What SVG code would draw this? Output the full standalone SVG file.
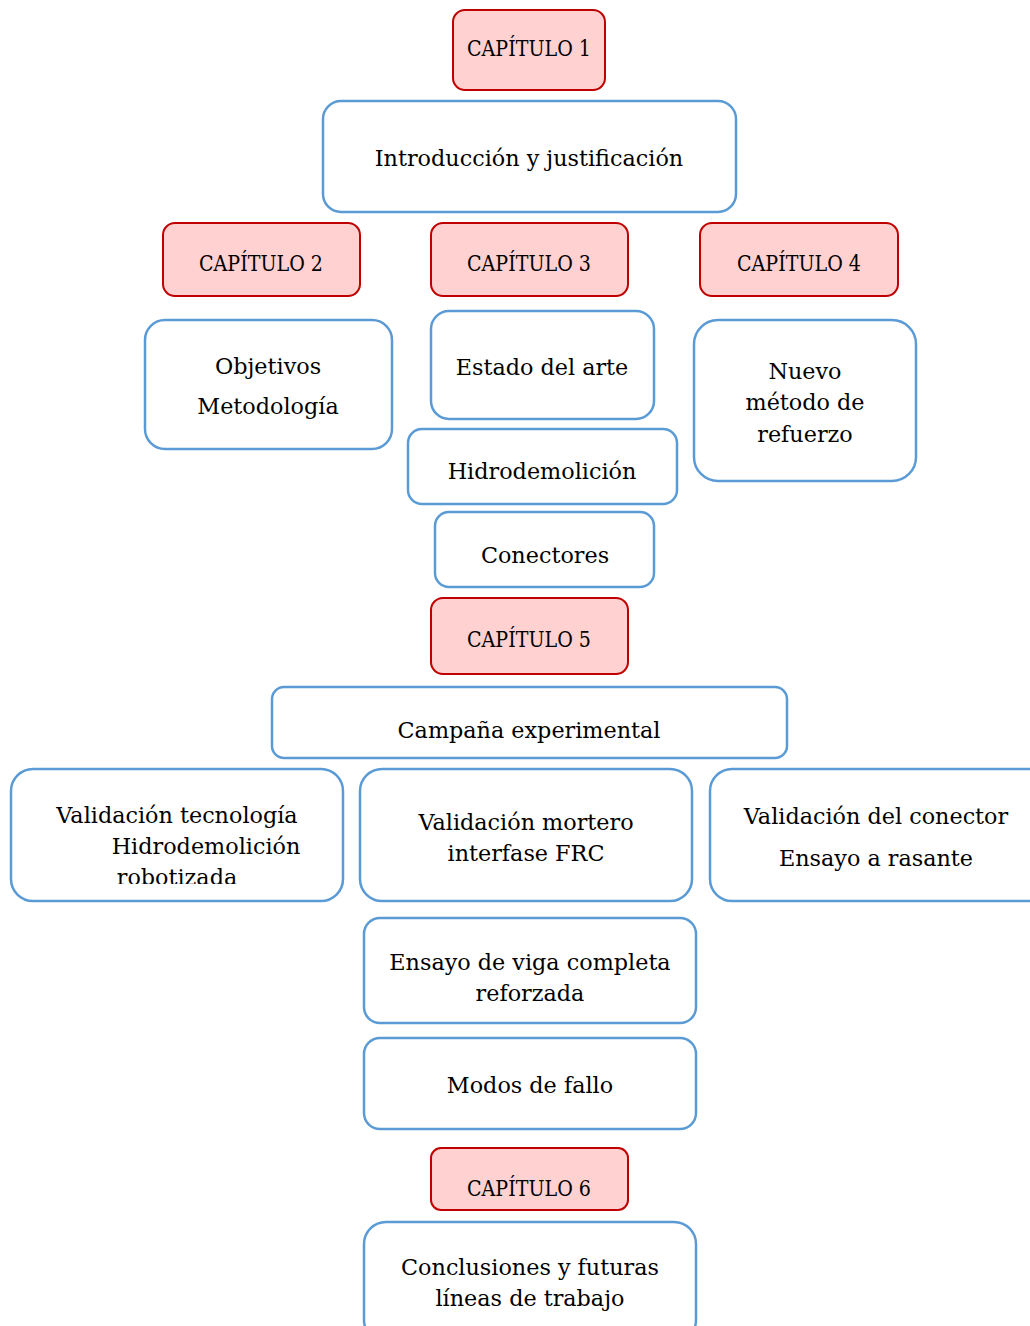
<svg xmlns="http://www.w3.org/2000/svg" width="1030" height="1326" viewBox="0 0 1030 1326">
<style>
.cap{fill:#ffd1d1;stroke:#c00000;stroke-width:2}
.box{fill:#ffffff;stroke:#5b9bd5;stroke-width:2.5}
text{font-family:"DejaVu Serif","Liberation Serif",serif;font-size:22.3px;fill:#000;text-anchor:middle}
text.ct{font-size:22px}
</style>
<defs>
<clipPath id="clipVT"><rect x="11" y="769" width="332" height="115"/></clipPath>
</defs>
<rect width="1030" height="1326" fill="#ffffff"/>
<g id="connectors"></g>
<g id="cap1"><rect class="cap" x="453" y="10" width="152" height="80" rx="12"/><text class="ct" x="529" y="56" textLength="124" lengthAdjust="spacingAndGlyphs">CAPÍTULO 1</text></g>
<g id="intro"><rect class="box" x="323" y="101" width="413" height="111" rx="18"/><text x="529" y="166">Introducción y justificación</text></g>
<g id="cap2"><rect class="cap" x="163" y="223" width="197" height="73" rx="12"/><text class="ct" x="261" y="271" textLength="124" lengthAdjust="spacingAndGlyphs">CAPÍTULO 2</text></g>
<g id="cap3"><rect class="cap" x="431" y="223" width="197" height="73" rx="12"/><text class="ct" x="529" y="271" textLength="124" lengthAdjust="spacingAndGlyphs">CAPÍTULO 3</text></g>
<g id="cap4"><rect class="cap" x="700" y="223" width="198" height="73" rx="12"/><text class="ct" x="799" y="271" textLength="124" lengthAdjust="spacingAndGlyphs">CAPÍTULO 4</text></g>
<g id="objetivos"><rect class="box" x="145" y="320" width="247" height="129" rx="20"/><text x="268" y="374">Objetivos</text><text x="268" y="414">Metodología</text></g>
<g id="estado"><rect class="box" x="431" y="311" width="223" height="108" rx="18"/><text x="542" y="375">Estado del arte</text></g>
<g id="nuevo"><rect class="box" x="694" y="320" width="222" height="161" rx="24"/><text x="805" y="379">Nuevo</text><text x="805" y="410">método de</text><text x="805" y="442">refuerzo</text></g>
<g id="hidro"><rect class="box" x="408" y="429" width="269" height="75" rx="14"/><text x="542" y="479">Hidrodemolición</text></g>
<g id="conectores"><rect class="box" x="435" y="512" width="219" height="75" rx="14"/><text x="545" y="563">Conectores</text></g>
<g id="cap5"><rect class="cap" x="431" y="598" width="197" height="76" rx="12"/><text class="ct" x="529" y="647" textLength="124" lengthAdjust="spacingAndGlyphs">CAPÍTULO 5</text></g>
<g id="campana"><rect class="box" x="272" y="687" width="515" height="71" rx="12"/><text x="529" y="738">Campaña experimental</text></g>
<g id="valtec"><rect class="box" x="11" y="769" width="332" height="132" rx="22"/><g clip-path="url(#clipVT)"><text x="177" y="823">Validación tecnología</text><text x="206" y="854">Hidrodemolición</text><text x="177" y="885">robotizada</text></g></g>
<g id="valmort"><rect class="box" x="360" y="769" width="332" height="132" rx="22"/><text x="526" y="830">Validación mortero</text><text x="526" y="861">interfase FRC</text></g>
<g id="valcon"><rect class="box" x="710" y="769" width="340" height="132" rx="22"/><text x="876" y="824">Validación del conector</text><text x="876" y="866">Ensayo a rasante</text></g>
<g id="viga"><rect class="box" x="364" y="918" width="332" height="105" rx="16"/><text x="530" y="970">Ensayo de viga completa</text><text x="530" y="1001">reforzada</text></g>
<g id="modos"><rect class="box" x="364" y="1038" width="332" height="91" rx="16"/><text x="530" y="1093">Modos de fallo</text></g>
<g id="cap6"><rect class="cap" x="431" y="1148" width="197" height="62" rx="10"/><text class="ct" x="529" y="1196" textLength="124" lengthAdjust="spacingAndGlyphs">CAPÍTULO 6</text></g>
<g id="conclusiones"><rect class="box" x="364" y="1222" width="332" height="120" rx="22"/><text x="530" y="1275">Conclusiones y futuras</text><text x="530" y="1306">líneas de trabajo</text></g>
</svg>
